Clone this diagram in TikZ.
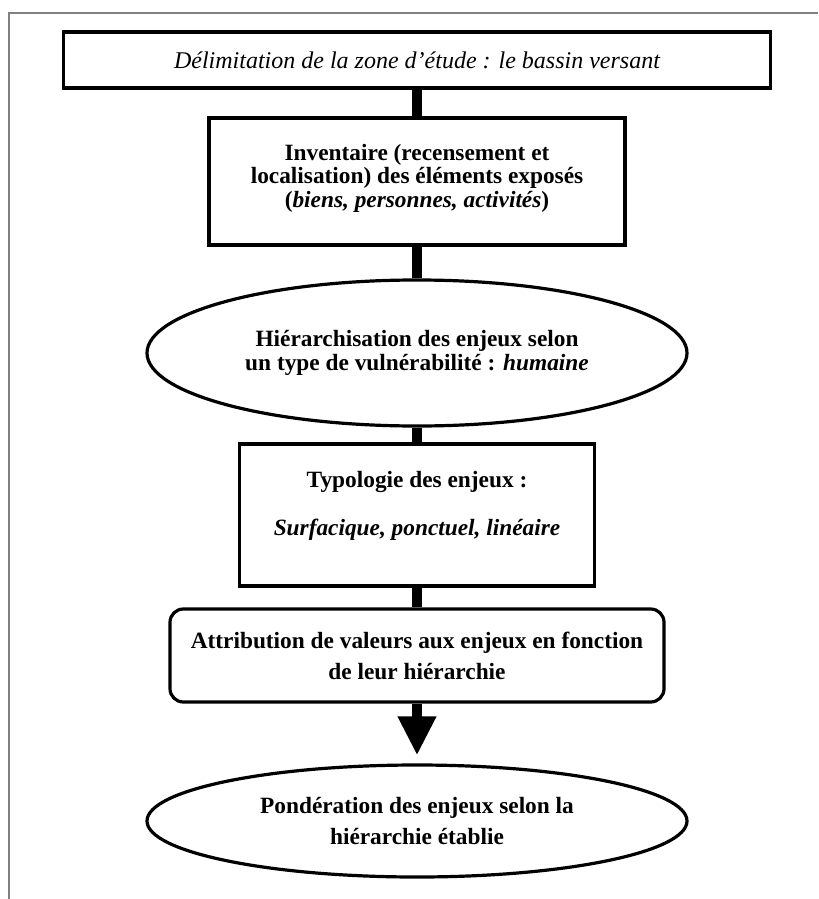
\documentclass[tikz,border=0pt]{standalone}
\usepackage{fontspec}
\setmainfont{Liberation Serif}
\usetikzlibrary{shapes.geometric,arrows.meta}
\begin{document}
\begin{tikzpicture}[x=0.75pt,y=-0.75pt,
  txt/.style={font=\fontsize{17.5}{17.5}\selectfont\bfseries},
  widetxt/.style={font=\fontsize{17.5}{23.25}\selectfont\bfseries},
  stage/.style={draw=black, line width=2.4pt, fill=white, inner sep=0pt, align=center},
  oval/.style={stage, ellipse},
  link/.style={draw=black, line width=7.9pt},
  finallink/.style={link, -{Triangle[width=27pt,length=29.25pt]}, shorten >=6pt}
]
\useasboundingbox (0,0) rectangle (818,899);
\fill[white] (0,0) rectangle (818,899);
% page frame (top and left edges only)
\draw[gray, line width=2.2pt] (9,899) -- (9,13) -- (818,13);

\node[stage, minimum width=530.25pt, minimum height=42pt,
      font=\fontsize{18}{18}\selectfont\itshape] (zone) at (417,60)
  {Délimitation de la zone d’étude : le bassin versant};

\node[stage, txt, minimum width=312pt, minimum height=95.25pt] (inv) at (417,181.5)
  {Inventaire (recensement et\\
   localisation) des éléments exposés\\
   (\textit{biens, personnes, activités})\\[-9pt]\mbox{}};

\node[oval, txt, minimum width=405pt, minimum height=109.5pt] (hier) at (417,353)
  {Hiérarchisation des enjeux selon\\
   un type de vulnérabilité : \textit{humaine}};

\node[stage, txt, minimum width=266.25pt, minimum height=106.5pt] (typo) at (417,515)
  {Typologie des enjeux :\\[18.5pt]
   \textit{Surfacique, ponctuel, linéaire}\\
   \mbox{}};

\node[stage, widetxt, rounded corners=10pt, minimum width=370.5pt, minimum height=69.75pt] (attr) at (417,655.5)
  {Attribution de valeurs aux enjeux en fonction\\
   de leur hiérarchie};

\node[oval, widetxt, minimum width=405pt, minimum height=84pt] (pond) at (417,821)
  {Pondération des enjeux selon la\\
   hiérarchie établie};

\path[link] (zone.south) -- (inv.north);
\path[link] (inv.south) -- (hier.north);
\path[link] (hier.south) -- (typo.north);
\path[link] (typo.south) -- (attr.north);
\draw[finallink] (attr.south) -- (pond.north);
\end{tikzpicture}
\end{document}
